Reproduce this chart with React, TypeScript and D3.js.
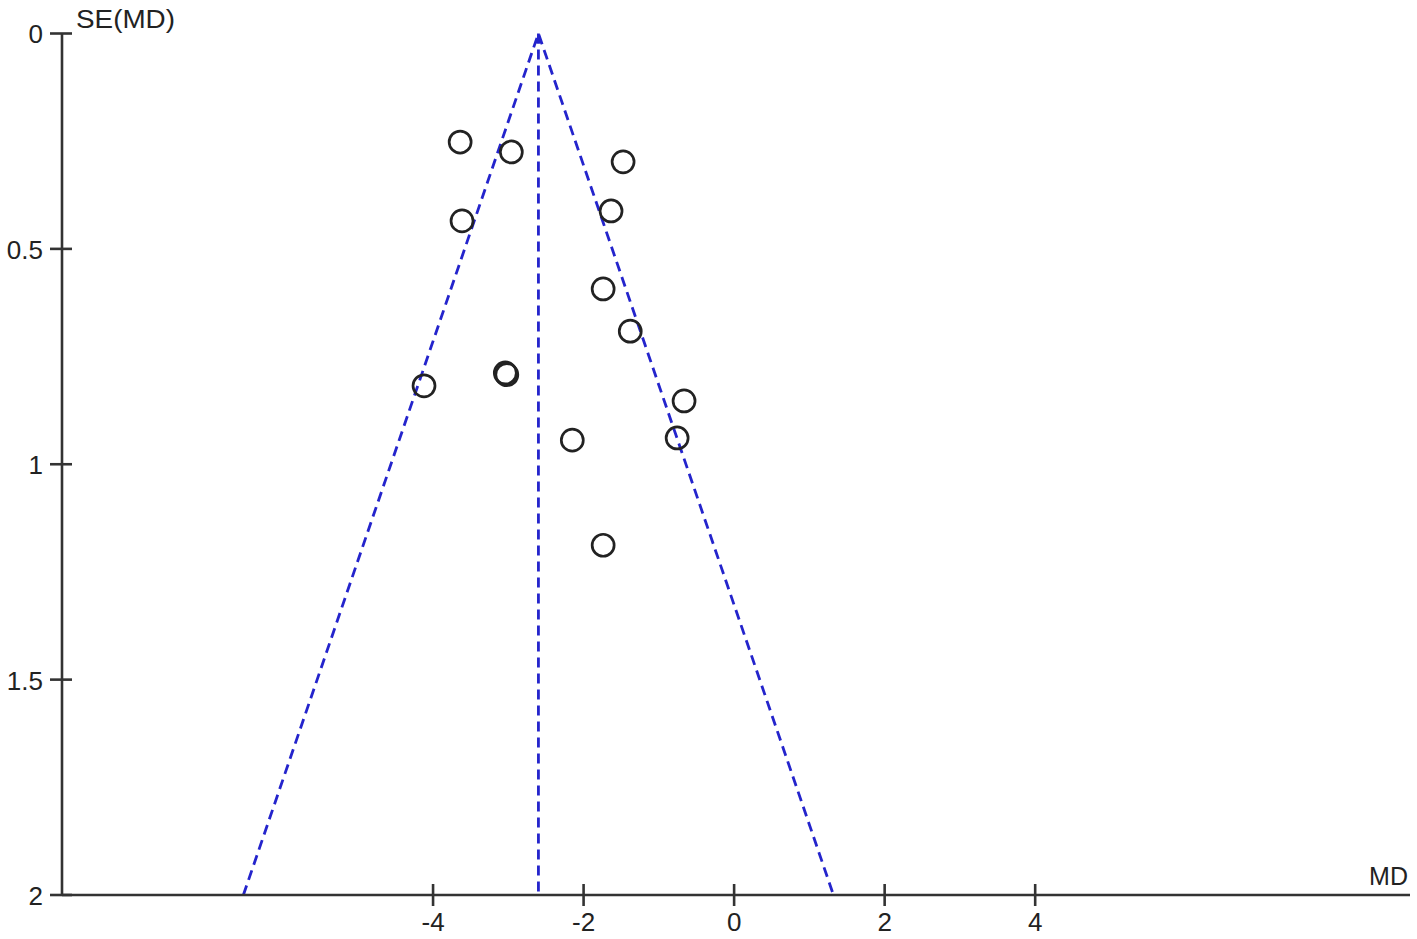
import React from "react";
import * as d3 from "d3";

const studyMD = [-3.64, -2.96, -1.475, -1.635, -3.615, -1.74, -1.38, -3.04, -3.02, -4.12, -0.665, -2.15, -0.757, -1.74];
const studySE = [0.252, 0.275, 0.298, 0.412, 0.435, 0.593, 0.691, 0.788, 0.792, 0.818, 0.853, 0.944, 0.939, 1.188];
const pooledMD = -2.6;
const xTicks = [-4, -2, 0, 2, 4];
const yTicks = [0, 0.5, 1, 1.5, 2];
const yTickLabels = ["0", "0.5", "1", "1.5", "2"];

export default function App() {
  const W = 1417, H = 939;
  const x = d3.scaleLinear().domain([-8.93, 8.98]).range([62, 1410]);
  const y = d3.scaleLinear().domain([0, 2]).range([33.5, 895]);
  const axisColor = "#333";
  const blue = "#2424cc";
  const font = "'Liberation Sans', Arial, sans-serif";
  const seMax = 2;
  const line = d3.line<[number, number]>().x(d => x(d[0])).y(d => y(d[1]));
  const funnel: [number, number][] = [
    [pooledMD - 1.96 * seMax, seMax],
    [pooledMD, 0],
    [pooledMD + 1.96 * seMax, seMax],
  ];
  const center: [number, number][] = [[pooledMD, 0], [pooledMD, seMax]];
  return (
    <svg width={W} height={H} style={{ position: "absolute", left: 0, top: 0, background: "#fff" }}>
      <rect x={0} y={0} width={W} height={H} fill="#fff" />
      <path d={line(funnel) || ""} fill="none" stroke={blue} strokeWidth={2.8} strokeDasharray="10 6" />
      <path d={line(center) || ""} fill="none" stroke={blue} strokeWidth={2.8} strokeDasharray="10 6" />
      <polygon points={`${x(pooledMD)},${y(0) + 1} ${x(pooledMD) - 3.5},${y(0) + 10} ${x(pooledMD) + 3.5},${y(0) + 10}`} fill={blue} />
      {/* axes */}
      <line x1={x.range()[0]} x2={x.range()[0]} y1={y(0)} y2={y(2)} stroke={axisColor} strokeWidth={2.6} />
      <line x1={x.range()[0]} x2={x.range()[1]} y1={y(2)} y2={y(2)} stroke={axisColor} strokeWidth={2.6} />
      {yTicks.map((t, i) => (
        <g key={"y" + i}>
          <line x1={50} x2={72} y1={y(t)} y2={y(t)} stroke={axisColor} strokeWidth={2.6} />
          <text x={43} y={y(t) + 3} textAnchor="end" dominantBaseline="middle" fontFamily={font} fontSize={26} fill="#222">
            {yTickLabels[i]}
          </text>
        </g>
      ))}
      {xTicks.map((t, i) => (
        <g key={"x" + i}>
          <line x1={x(t)} x2={x(t)} y1={y(2) - 11} y2={y(2) + 11} stroke={axisColor} strokeWidth={2.6} />
          <text x={x(t)} y={y(2) + 29} textAnchor="middle" dominantBaseline="middle" fontFamily={font} fontSize={26} fill="#222">
            {t}
          </text>
        </g>
      ))}
      <text x={76} y={28} fontFamily={font} fontSize={25} fill="#222" textLength={99} lengthAdjust="spacingAndGlyphs">SE(MD)</text>
      <text x={1408} y={885} textAnchor="end" fontFamily={font} fontSize={25} fill="#222">MD</text>
      {studyMD.map((m, i) => (
        <circle key={"p" + i} cx={x(m)} cy={y(studySE[i])} r={11} fill="none" stroke="#222" strokeWidth={2.7} />
      ))}
    </svg>
  );
}
